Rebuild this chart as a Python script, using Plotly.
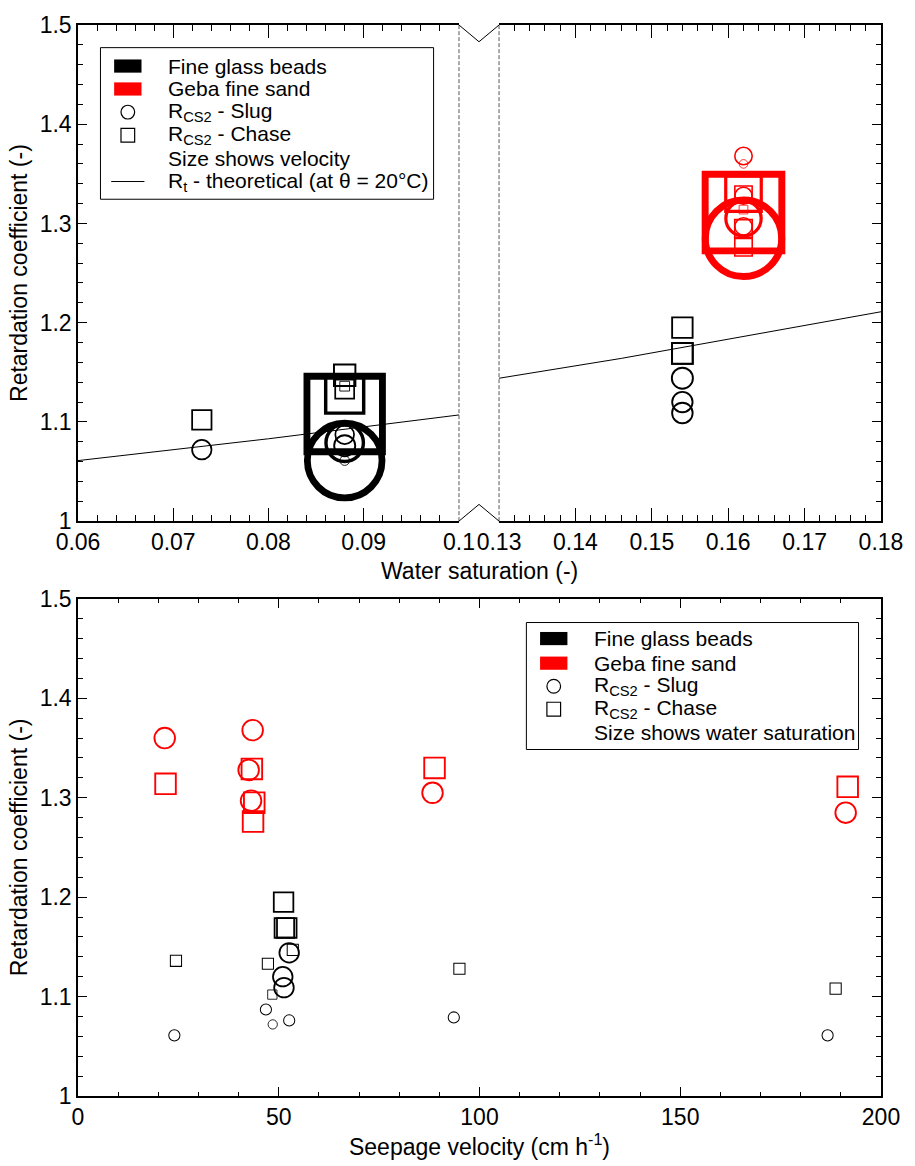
import plotly.graph_objects as go

# ---------------- data ----------------
# Fine glass beads – R_CS2 from slug
beads_slug_theta = [0.073, 0.088, 0.088, 0.088, 0.088, 0.088, 0.154, 0.154, 0.154]
beads_slug_vel = [48.5, 24.0, 46.8, 52.6, 93.6, 186.7, 52.6, 51.0, 51.3]
beads_slug_R = [1.072, 1.061, 1.087, 1.076, 1.079, 1.061, 1.144, 1.120, 1.109]
# Fine glass beads – R_CS2 from chase
beads_chase_theta = [0.073, 0.088, 0.088, 0.088, 0.088, 0.088, 0.154, 0.154, 0.154]
beads_chase_vel = [48.4, 24.4, 47.3, 53.5, 95.0, 188.7, 51.2, 51.4, 52.0]
beads_chase_R = [1.102, 1.136, 1.133, 1.147, 1.128, 1.108, 1.195, 1.169, 1.169]
# Geba fine sand – slug
sand_slug_theta = [0.162, 0.162, 0.162, 0.162, 0.162, 0.162]
sand_slug_vel = [21.6, 43.5, 42.5, 43.1, 88.3, 191.2]
sand_slug_R = [1.360, 1.368, 1.328, 1.297, 1.305, 1.285]
# Geba fine sand – chase
sand_chase_theta = [0.162, 0.162, 0.162, 0.162, 0.162, 0.162]
sand_chase_vel = [21.8, 43.3, 43.9, 43.6, 88.8, 191.7]
sand_chase_R = [1.314, 1.329, 1.295, 1.276, 1.330, 1.311]
# Theoretical retardation R_t (theta = 20 °C)
rt_theta_low = [0.06, 0.08, 0.10]
rt_low = [1.061, 1.083, 1.107]
rt_theta_high = [0.13, 0.146, 0.18]
rt_high = [1.144, 1.164, 1.211]

legend_top = ["Fine glass beads", "Geba fine sand", "R<sub>CS2</sub> - Slug",
              "R<sub>CS2</sub> - Chase", "Size shows velocity",
              "R<sub>t</sub> - theoretical (at θ = 20°C)"]
legend_bottom = ["Fine glass beads", "Geba fine sand", "R<sub>CS2</sub> - Slug",
                 "R<sub>CS2</sub> - Chase", "Size shows water saturation"]

# ---------------- layout helpers ----------------
FONT = "Liberation Sans, Arial, sans-serif"
W, H = 915, 1166
ML, MR, MT, MB = 78, 15, 20, 58
PW, PH = W - ML - MR, H - MT - MB
BLACK, RED = "#000000", "#ff0000"
THETA_BREAK = 0.11


def px_x(px):
    return (px - ML) / PW


def px_y(py):
    return (H - MB - py) / PH


def vel_size(v):
    return [0.40 * a for a in v]


def sat_size(t):
    return [127.0 * a for a in t]


def lw(sizes):
    return [s / 11.0 for s in sizes]


fig = go.Figure()


def add_pts(x, y, sizes, color, symbol, xa, ya):
    if not x:
        return
    fig.add_trace(go.Scatter(
        x=x, y=y, mode="markers", xaxis=xa, yaxis=ya, hoverinfo="skip",
        marker=dict(symbol=symbol, size=sizes, color="rgba(0,0,0,0)", opacity=1,
                    line=dict(color=color, width=lw(sizes))),
        showlegend=False))


def split(theta, vel, R, low):
    idx = [i for i, t in enumerate(theta) if (t < THETA_BREAK) == low]
    return [theta[i] for i in idx], [vel[i] for i in idx], [R[i] for i in idx]


# ---- top panel: R vs water saturation (size = velocity) ----
for low, xa, ya in [(True, "x", "y"), (False, "x2", "y2")]:
    t, v, r = split(beads_slug_theta, beads_slug_vel, beads_slug_R, low)
    add_pts(t, r, vel_size(v), BLACK, "circle", xa, ya)
    t, v, r = split(beads_chase_theta, beads_chase_vel, beads_chase_R, low)
    add_pts(t, r, vel_size(v), BLACK, "square", xa, ya)
add_pts(sand_slug_theta, sand_slug_R, vel_size(sand_slug_vel), RED, "circle", "x2", "y2")
add_pts(sand_chase_theta, sand_chase_R, vel_size(sand_chase_vel), RED, "square", "x2", "y2")

fig.add_trace(go.Scatter(x=rt_theta_low, y=rt_low, mode="lines", xaxis="x", yaxis="y",
                         line=dict(color=BLACK, width=1), hoverinfo="skip", showlegend=False))
fig.add_trace(go.Scatter(x=rt_theta_high, y=rt_high, mode="lines", xaxis="x2", yaxis="y2",
                         line=dict(color=BLACK, width=1), hoverinfo="skip", showlegend=False))

# ---- bottom panel: R vs seepage velocity (size = water saturation) ----
add_pts(beads_slug_vel, beads_slug_R, sat_size(beads_slug_theta), BLACK, "circle", "x3", "y3")
add_pts(beads_chase_vel, beads_chase_R, sat_size(beads_chase_theta), BLACK, "square", "x3", "y3")
add_pts(sand_slug_vel, sand_slug_R, sat_size(sand_slug_theta), RED, "circle", "x3", "y3")
add_pts(sand_chase_vel, sand_chase_R, sat_size(sand_chase_theta), RED, "square", "x3", "y3")

# ---------------- axes ----------------
tickfont = dict(family=FONT, size=23, color="black")
common = dict(showline=True, linecolor="black", linewidth=1.5, ticks="inside",
              tickcolor="black", tickwidth=1.2, showgrid=False, zeroline=False,
              tickfont=tickfont)

top_y0 = px_y(524)
bot_y1 = px_y(603)
x_left_end = px_x(468)
x_right_start = px_x(509)

fig.update_layout(
    xaxis=dict(common, domain=[0, x_left_end], range=[0.06, 0.10], anchor="y",
               tick0=0.06, dtick=0.01, ticklen=13, mirror="ticks",
               minor=dict(dtick=0.002, ticklen=6.5, ticks="inside", tickcolor="black",
                          tickwidth=1.2, showgrid=False)),
    xaxis2=dict(common, domain=[x_right_start, 1], range=[0.13, 0.18], anchor="y2",
                tick0=0.13, dtick=0.01, ticklen=13, mirror="ticks",
                minor=dict(dtick=0.002, ticklen=6.5, ticks="inside", tickcolor="black",
                           tickwidth=1.2, showgrid=False)),
    yaxis=dict(common, domain=[top_y0, 1], range=[1, 1.5], anchor="x",
               dtick=0.1, ticklen=9.5,
               minor=dict(dtick=0.02, ticklen=5, ticks="inside", tickcolor="black",
                          tickwidth=1.2, showgrid=False),
               title=dict(text="Retardation coefficient (-)", standoff=6,
                          font=dict(family=FONT, size=23, color="black"))),
    yaxis2=dict(common, domain=[top_y0, 1], range=[1, 1.5], anchor="x2", side="right",
                dtick=0.1, ticklen=9.5, showticklabels=False,
                minor=dict(dtick=0.02, ticklen=5, ticks="inside", tickcolor="black",
                           tickwidth=1.2, showgrid=False)),
    xaxis3=dict(common, domain=[0, 1], range=[0, 200], anchor="y3",
                dtick=50, ticklen=9, mirror="ticks",
                minor=dict(dtick=10, ticklen=4.5, ticks="inside", tickcolor="black",
                           tickwidth=1.2, showgrid=False),
                title=dict(text="Seepage velocity (cm h<sup>-1</sup>)", standoff=8,
                           font=dict(family=FONT, size=23, color="black"))),
    yaxis3=dict(common, domain=[0, bot_y1], range=[1, 1.5], anchor="x3",
                dtick=0.1, ticklen=9, mirror="ticks",
                minor=dict(dtick=0.02, ticklen=5, ticks="inside", tickcolor="black",
                           tickwidth=1.2, showgrid=False),
                title=dict(text="Retardation coefficient (-)", standoff=6,
                           font=dict(family=FONT, size=23, color="black"))),
)

# ---------------- axis break decoration ----------------
shapes = []
annotations = []
ytop, ybot = px_y(20), px_y(524)
for xp in (468, 509):
    shapes.append(dict(type="line", xref="paper", yref="paper", x0=px_x(xp), x1=px_x(xp),
                       y0=ybot, y1=ytop,
                       line=dict(color="#444444", width=0.9, dash="4px,2px")))
xm = px_x(488.5)
shapes.append(dict(type="path", xref="paper", yref="paper",
                   path=f"M {px_x(468)},{ytop} L {xm},{px_y(37)} L {px_x(509)},{ytop}",
                   line=dict(color="black", width=1)))
shapes.append(dict(type="path", xref="paper", yref="paper",
                   path=f"M {px_x(468)},{ybot} L {xm},{px_y(507)} L {px_x(509)},{ybot}",
                   line=dict(color="black", width=1)))

annotations.append(dict(text="Water saturation (-)", xref="paper", yref="paper",
                        x=px_x(488.5), y=px_y(575), xanchor="center", yanchor="middle",
                        showarrow=False, font=dict(family=FONT, size=23, color="black")))


# ---------------- hand-drawn legends ----------------
def legend_box(x0, x1, y0, y1, rows, sym_x, text_x, labels, with_line):
    shapes.append(dict(type="rect", xref="paper", yref="paper", x0=px_x(x0), x1=px_x(x1),
                       y0=px_y(y1), y1=px_y(y0), line=dict(color="black", width=1),
                       fillcolor="white"))
    kinds = ["rect_k", "rect_r", "circle", "square", None, "line"]
    for ry, kind, lab in zip(rows, kinds, labels):
        if kind in ("rect_k", "rect_r"):
            col = BLACK if kind == "rect_k" else RED
            shapes.append(dict(type="rect", xref="paper", yref="paper",
                               x0=px_x(sym_x - 14), x1=px_x(sym_x + 14),
                               y0=px_y(ry + 6.7), y1=px_y(ry - 6.7),
                               line=dict(width=0), fillcolor=col))
        elif kind == "circle":
            shapes.append(dict(type="circle", xref="paper", yref="paper",
                               x0=px_x(sym_x - 7), x1=px_x(sym_x + 7),
                               y0=px_y(ry + 7), y1=px_y(ry - 7),
                               line=dict(color="black", width=1.2)))
        elif kind == "square":
            shapes.append(dict(type="rect", xref="paper", yref="paper",
                               x0=px_x(sym_x - 7), x1=px_x(sym_x + 7),
                               y0=px_y(ry + 7), y1=px_y(ry - 7),
                               line=dict(color="black", width=1.2)))
        elif kind == "line" and with_line:
            shapes.append(dict(type="line", xref="paper", yref="paper",
                               x0=px_x(sym_x - 17), x1=px_x(sym_x + 17),
                               y0=px_y(ry), y1=px_y(ry), line=dict(color="black", width=1)))
        annotations.append(dict(text=lab, xref="paper", yref="paper", x=px_x(text_x),
                                y=px_y(ry), xanchor="left", yanchor="middle",
                                showarrow=False,
                                font=dict(family=FONT, size=21, color="black")))


legend_box(101, 442, 43, 197, [61.7, 85, 108.5, 132, 155.5, 179], 129, 168,
           legend_top, True)
legend_box(537, 877, 627, 756, [643.3, 668.3, 691.7, 715, 738.3], 565, 604,
           legend_bottom, False)

fig.update_layout(
    width=W, height=H, margin=dict(l=ML, r=MR, t=MT, b=MB, pad=0),
    paper_bgcolor="white", plot_bgcolor="white",
    font=dict(family=FONT, color="black"),
    showlegend=False, hovermode=False,
    shapes=shapes, annotations=annotations,
)

fig.write_html("out.html")
